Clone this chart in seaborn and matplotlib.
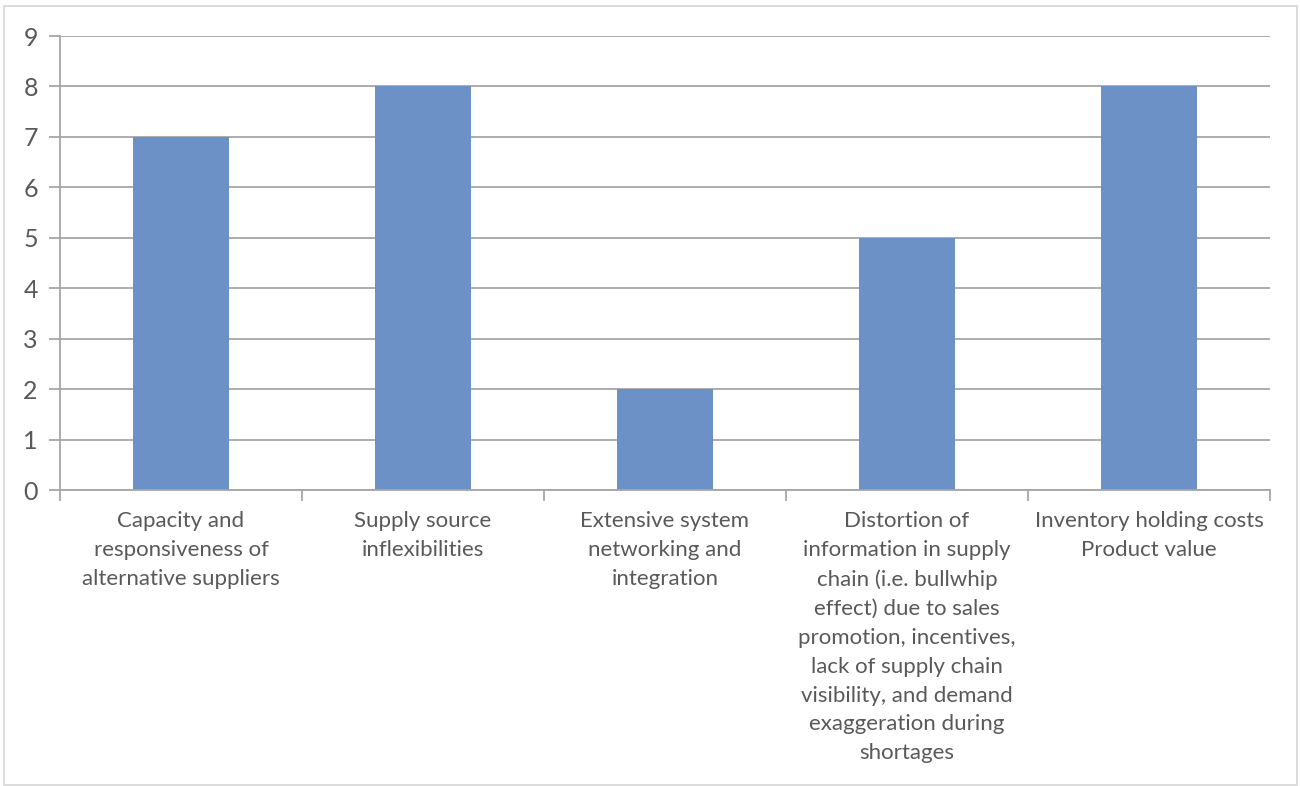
import matplotlib
matplotlib.use("Agg")
import matplotlib.pyplot as plt
from matplotlib.patches import Rectangle
import seaborn as sns
import pandas as pd

categories = [
    "Capacity and\nresponsiveness of\nalternative suppliers",
    "Supply source\ninflexibilities",
    "Extensive system\nnetworking and\nintegration",
    "Distortion of\ninformation in supply\nchain (i.e. bullwhip\neffect) due to sales\npromotion, incentives,\nlack of supply chain\nvisibility, and demand\nexaggeration during\nshortages",
    "Inventory holding costs\nProduct value",
]
values = [7, 8, 2, 5, 8]
y_ticks = [0, 1, 2, 3, 4, 5, 6, 7, 8, 9]

sns.set_theme(style="white")
plt.rcParams["font.family"] = ["Lato", "DejaVu Sans"]

text_color = "#595959"
grid_color = "#A6A6A6"
bar_color = "#6B91C7"

df = pd.DataFrame({"category": categories, "value": values})

fig = plt.figure(figsize=(13, 7.86), dpi=100)
ax = fig.add_axes([60 / 1300, 296 / 786, 1210 / 1300, 454 / 786])

sns.barplot(data=df, x="category", y="value", color=bar_color, width=0.4,
            saturation=1, ax=ax, edgecolor="none")

ax.set_xlim(-0.5, len(categories) - 0.5)
ax.set_ylim(0, 9)
ax.set_yticks(y_ticks)
ax.set_yticklabels([str(t) for t in y_ticks], fontsize=18, color=text_color)
ax.yaxis.grid(True, color=grid_color, linewidth=1.3)
ax.set_axisbelow(True)
ax.tick_params(axis="y", length=8, width=1.3, color=grid_color, pad=8, left=True)

ax.set_xticks(range(len(categories)))
ax.set_xticklabels(categories, fontsize=16, color=text_color, linespacing=1.56,
                   va="top")
ax.set_xticks([i - 0.5 for i in range(len(categories) + 1)], minor=True)
ax.tick_params(axis="x", which="major", length=0, pad=15)
ax.tick_params(axis="x", which="minor", length=8, width=1.3, color=grid_color,
               bottom=True)

for side in ["top", "right"]:
    ax.spines[side].set_visible(False)
for side in ["left", "bottom"]:
    ax.spines[side].set_color(grid_color)
    ax.spines[side].set_linewidth(1.3)

ax.set_xlabel("")
ax.set_ylabel("")

fig.patches.append(Rectangle((4 / 1300, 1 / 786), 1293 / 1300, 779 / 786,
                             transform=fig.transFigure, fill=False,
                             edgecolor="#D9D9D9", linewidth=1.3))

fig.savefig("out.png", dpi=100, facecolor="white")
